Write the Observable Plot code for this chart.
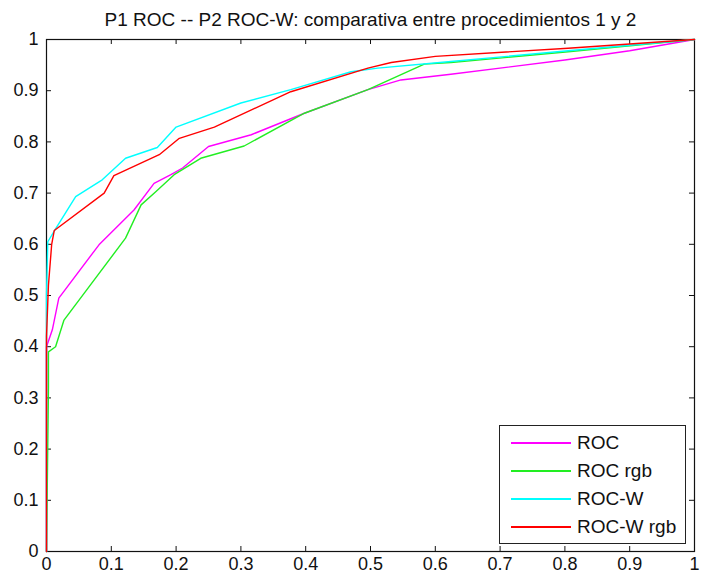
<!DOCTYPE html>
<html>
<head>
<meta charset="utf-8">
<script src="https://cdn.jsdelivr.net/npm/d3@7"></script>
<script src="https://cdn.jsdelivr.net/npm/@observablehq/plot@0.6"></script>
<style>
  html, body { margin: 0; padding: 0; background: #fff; }
  #wrap { position: relative; width: 701px; height: 580px; font-family: "Liberation Sans", Arial, sans-serif; }
  #legend { position: absolute; left: 499px; top: 425px; width: 187px; height: 119px; border: 1px solid #222; background: #fff; box-sizing: border-box; }
  .item { position: absolute; left: 0; height: 22px; display: flex; align-items: center; font-size: 19px; color: #111; white-space: nowrap; }
  .sw { display: inline-block; width: 60px; height: 1.5px; margin-left: 11px; margin-right: 6px; }
</style>
</head>
<body>
<div id="wrap"></div>
<script>
const title = "P1 ROC -- P2 ROC-W: comparativa entre procedimientos 1 y 2";
const seriesNames = ["ROC", "ROC rgb", "ROC-W", "ROC-W rgb"];
const seriesColors = ["#ff00ff", "#22ee22", "#00ffff", "#ff0000"];
const xTicks = [0, 0.1, 0.2, 0.3, 0.4, 0.5, 0.6, 0.7, 0.8, 0.9, 1];
const yTicks = [0, 0.1, 0.2, 0.3, 0.4, 0.5, 0.6, 0.7, 0.8, 0.9, 1];

const rocX = [0, 0, 0.009, 0.019, 0.081, 0.135, 0.166, 0.192, 0.21, 0.25, 0.316, 0.398, 0.496, 0.547, 0.624, 0.8, 0.9, 1];
const rocY = [0, 0.40, 0.433, 0.495, 0.599, 0.667, 0.719, 0.736, 0.749, 0.791, 0.814, 0.856, 0.902, 0.921, 0.932, 0.96, 0.978, 1];

const rocRgbX = [0, 0.003, 0.003, 0.014, 0.027, 0.122, 0.146, 0.169, 0.197, 0.238, 0.305, 0.398, 0.496, 0.583, 0.624, 0.805, 1];
const rocRgbY = [0, 0.32, 0.39, 0.40, 0.452, 0.612, 0.677, 0.703, 0.736, 0.768, 0.792, 0.856, 0.902, 0.952, 0.955, 0.976, 1];

const rocWX = [0, 0, 0.002, 0.014, 0.045, 0.086, 0.122, 0.171, 0.2, 0.3, 0.377, 0.47, 0.511, 0.624, 0.805, 1];
const rocWY = [0, 0.5, 0.605, 0.63, 0.693, 0.726, 0.768, 0.789, 0.829, 0.876, 0.902, 0.937, 0.944, 0.957, 0.978, 1];

const rocWRgbX = [0, 0, 0.003, 0.008, 0.012, 0.089, 0.104, 0.174, 0.205, 0.259, 0.377, 0.496, 0.532, 0.6, 0.805, 1];
const rocWRgbY = [0, 0.42, 0.52, 0.6, 0.627, 0.70, 0.734, 0.775, 0.807, 0.829, 0.898, 0.944, 0.955, 0.967, 0.983, 1];

const allX = [rocX, rocRgbX, rocWX, rocWRgbX];
const allY = [rocY, rocRgbY, rocWY, rocWRgbY];
const rows = [];
allX.forEach((xs, s) => xs.forEach((x, i) => rows.push({series: seriesNames[s], x, y: allY[s][i]})));

const tx = 5 / 647; // tick length in x units
const ty = 5 / 512; // tick length in y units
const fmt = d => String(+d.toFixed(1));

const chart = Plot.plot({
  width: 701,
  height: 580,
  marginLeft: 46,
  marginRight: 7,
  marginTop: 39,
  marginBottom: 29,
  style: {fontFamily: "Liberation Sans, Arial, sans-serif", fontSize: "18px", background: "white", overflow: "visible"},
  x: {domain: [0, 1]},
  y: {domain: [0, 1]},
  color: {domain: seriesNames, range: seriesColors},
  marks: [
    Plot.axisX({ticks: xTicks, tickFormat: fmt, tickSize: 0, tickPadding: 6, label: null, fontSize: 18, fill: "#111"}),
    Plot.axisY({ticks: yTicks, tickFormat: fmt, tickSize: 0, tickPadding: 8, label: null, fontSize: 18, fill: "#111"}),
    Plot.frame({stroke: "#111", strokeWidth: 1.2}),
    Plot.ruleX(xTicks, {x: d => d, y1: 0, y2: ty, stroke: "#111"}),
    Plot.ruleX(xTicks, {x: d => d, y1: 1, y2: 1 - ty, stroke: "#111"}),
    Plot.ruleY(yTicks, {y: d => d, x1: 0, x2: tx, stroke: "#111"}),
    Plot.ruleY(yTicks, {y: d => d, x1: 1, x2: 1 - tx, stroke: "#111"}),
    Plot.line(rows, {x: "x", y: "y", z: "series", stroke: "series", strokeWidth: 1.4, curve: "linear"}),
    Plot.text([title], {text: d => d, frameAnchor: "top", dy: -27, fontSize: 19, fill: "#111"})
  ]
});

const wrap = document.getElementById("wrap");
wrap.appendChild(chart);

const legend = document.createElement("div");
legend.id = "legend";
seriesNames.forEach((name, i) => {
  const item = document.createElement("div");
  item.className = "item";
  item.style.top = (6 + i * 28) + "px";
  const sw = document.createElement("span");
  sw.className = "sw";
  sw.style.background = seriesColors[i];
  item.appendChild(sw);
  item.appendChild(document.createTextNode(name));
  legend.appendChild(item);
});
wrap.appendChild(legend);
</script>
</body>
</html>
